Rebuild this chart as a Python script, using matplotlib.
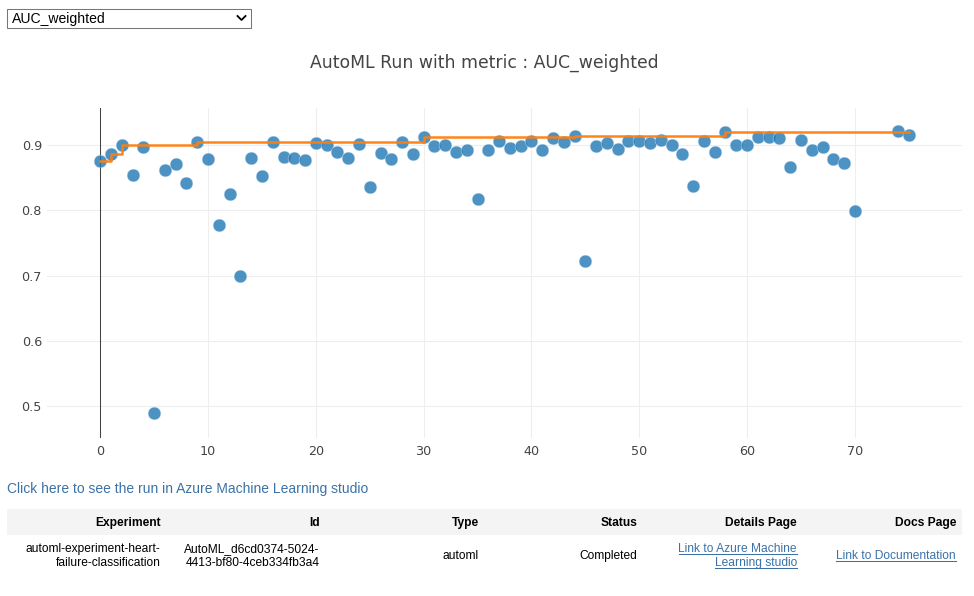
import matplotlib
matplotlib.use("Agg")
import matplotlib.pyplot as plt

# iteration number and metric score
runs = list(range(0, 71)) + [74, 75]
scores = [0.876, 0.887, 0.900, 0.854, 0.897, 0.489, 0.862, 0.871, 0.842, 0.905,
          0.879, 0.777, 0.825, 0.700, 0.880, 0.853, 0.905, 0.882, 0.880, 0.878,
          0.904, 0.900, 0.890, 0.880, 0.902, 0.836, 0.888, 0.879, 0.905, 0.887,
          0.912, 0.898, 0.900, 0.890, 0.893, 0.818, 0.892, 0.906, 0.896, 0.899,
          0.906, 0.892, 0.911, 0.905, 0.914, 0.722, 0.898, 0.904, 0.894, 0.907,
          0.907, 0.904, 0.908, 0.900, 0.887, 0.837, 0.906, 0.889, 0.920, 0.901,
          0.900, 0.913, 0.913, 0.911, 0.867, 0.908, 0.892, 0.897, 0.879, 0.872,
          0.799, 0.921, 0.916]

best_runs = [0, 1, 2, 9, 30, 44, 58, 74, 75]
best_scores = [0.876, 0.887, 0.900, 0.905, 0.912, 0.914, 0.920, 0.9205, 0.9205]

x_ticks = [0, 10, 20, 30, 40, 50, 60, 70]
y_ticks = [0.5, 0.6, 0.7, 0.8, 0.9]

selected = "AUC_weighted"
title = "AutoML Run with metric : AUC_weighted"
link_text = "Click here to see the run in Azure Machine Learning studio"
headers = ["Experiment", "Id", "Type", "Status", "Details Page", "Docs Page"]
col_right = [160.5, 319.5, 478.5, 637.5, 797, 956]
cells = [["automl-experiment-heart-", "failure-classification"],
         ["AutoML_d6cd0374-5024-", "4413-bf80-4ceb334fb3a4"],
         ["automl"],
         ["Completed"],
         ["Link to Azure Machine", "Learning studio"],
         ["Link to Documentation"]]

W, H = 974, 596
LINK = "#3a72a8"
PAGE_FONT = "Liberation Sans"

fig = plt.figure(figsize=(W / 100, H / 100), dpi=100)

# plot area in page pixels
left, right, top, bottom = 47, 962, 108, 438
ax = fig.add_axes([left / W, 1 - bottom / H, (right - left) / W, (bottom - top) / H])
ax.set_xlim(-4.94, 79.94)
ax.set_ylim(0.451, 0.957)
for s in ax.spines.values():
    s.set_visible(False)
ax.set_xticks(x_ticks)
ax.set_yticks(y_ticks)
ax.set_yticklabels(["0.5", "0.6", "0.7", "0.8", "0.9"])
ax.tick_params(length=0, labelsize=9.2, labelcolor="#444444")
ax.tick_params(axis="x", pad=5)
ax.tick_params(axis="y", pad=3.6)
ax.grid(True, color="#eeeeee", lw=0.75)
ax.set_axisbelow(True)
ax.axvline(0, color="#444444", lw=0.75, zorder=1)

ax.scatter(runs, scores, s=84, color="#1f77b4", alpha=0.8, edgecolors="#d5e5f0",
           linewidths=0.4, zorder=3, clip_on=False)
ax.step(best_runs, best_scores, where="post", color="#ff7f0e", lw=1.8, alpha=0.95, zorder=4)

fig.text(484 / W, 1 - 63 / H, title, ha="center", va="center", fontsize=12.4, color="#444444")

# page furniture around the chart, drawn in page pixels
page = fig.add_axes([0, 0, 1, 1], zorder=-1)
page.set_xlim(0, W)
page.set_ylim(H, 0)
page.axis("off")

page.add_patch(plt.Rectangle((7, 8.5), 244, 19, fc="white", ec="#767676", lw=0.75))
page.text(12, 18.5, selected, ha="left", va="center", fontsize=10.08, family=PAGE_FONT, color="black")
page.plot([237.5, 241.5, 245.5], [16, 20, 16], color="black", lw=1.3)

page.text(7, 489, link_text, ha="left", va="center", fontsize=10.03, family=PAGE_FONT, color=LINK)

page.add_patch(plt.Rectangle((7, 509), 955, 26, fc="#f4f4f4", ec="none"))
for name, xr in zip(headers, col_right):
    page.text(xr, 522.7, name, ha="right", va="center", fontsize=8.64, weight="bold",
              family=PAGE_FONT, color="black")

fig.canvas.draw()
renderer = fig.canvas.get_renderer()
for i, lines in enumerate(cells):
    is_link = i >= 4
    for j, line in enumerate(lines):
        yc = 555 + (j - (len(lines) - 1) / 2) * 14
        t = page.text(col_right[i], yc + 0.8, line, ha="right", va="center", fontsize=8.64,
                      family=PAGE_FONT, color=LINK if is_link else "black")
        if is_link:
            box = t.get_window_extent(renderer)
            page.plot([box.x0, box.x1], [yc + 5.5, yc + 5.5], color=LINK, lw=0.75)

fig.savefig("out.png", dpi=100)
